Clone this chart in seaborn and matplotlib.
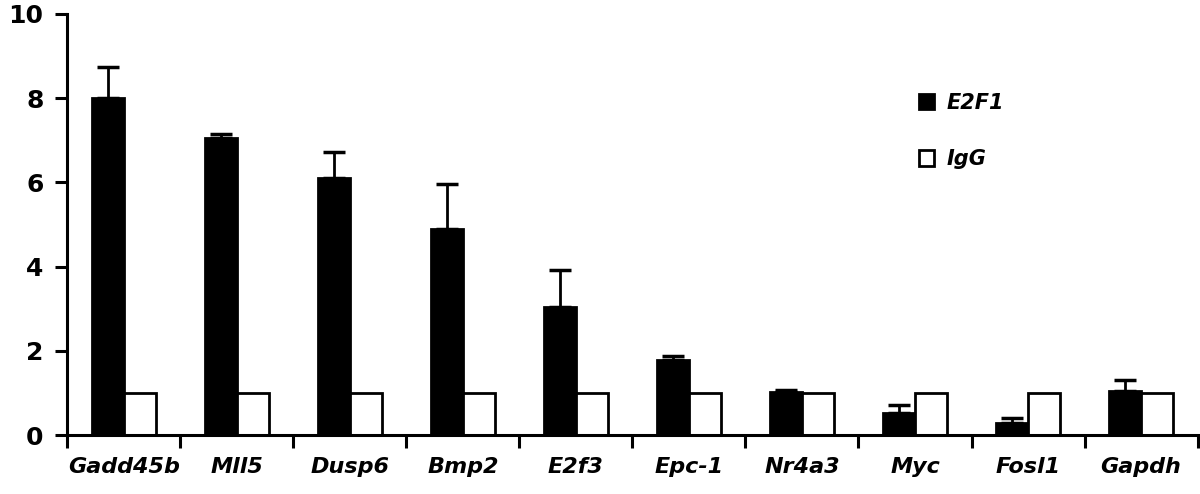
import numpy as np
import pandas as pd
import matplotlib
matplotlib.use("Agg")
import matplotlib.pyplot as plt
import seaborn as sns
from matplotlib.ticker import FixedLocator

genes = ["Gadd45b", "Mll5", "Dusp6", "Bmp2", "E2f3", "Epc-1", "Nr4a3", "Myc", "Fosl1", "Gapdh"]
e2f1 = [8.0, 7.05, 6.1, 4.9, 3.05, 1.78, 1.02, 0.52, 0.3, 1.05]
e2f1_err = [0.75, 0.1, 0.62, 1.06, 0.87, 0.1, 0.05, 0.19, 0.11, 0.27]
igg = [1.0] * 10

df = pd.DataFrame({
    "gene": genes * 2,
    "ab": ["E2F1"] * 10 + ["IgG"] * 10,
    "value": e2f1 + igg,
})

sns.set_style("white")
plt.rcParams["font.family"] = ["DejaVu Sans"]
plt.rcParams["text.color"] = "black"
plt.rcParams["xtick.color"] = "black"
plt.rcParams["ytick.color"] = "black"

fig = plt.figure(figsize=(12, 4.94), dpi=100)
ax = fig.add_axes([0.056, 0.119, 0.942, 0.853])

sns.barplot(data=df, x="gene", y="value", hue="ab", order=genes,
            palette={"E2F1": "black", "IgG": "white"}, edgecolor="black",
            linewidth=2, width=0.57, errorbar=None, ax=ax, legend=False)

# upper-only error bars on the E2F1 bars
xs = [p.get_x() + p.get_width() / 2 for p in ax.containers[0]]
ax.errorbar(xs, e2f1, yerr=[np.zeros(len(e2f1)), e2f1_err], fmt="none",
            ecolor="black", elinewidth=2, capsize=8, capthick=2.5, zorder=5)

ax.set_xlim(-0.5, len(genes) - 0.5)
ax.set_ylim(0, 10)
ax.set_yticks([0, 2, 4, 6, 8, 10])
ax.set_xlabel("")
ax.set_ylabel("")
sns.despine(ax=ax)
for s in ["left", "bottom"]:
    ax.spines[s].set_linewidth(2.2)
    ax.spines[s].set_color("black")

ax.set_xticks(range(len(genes)))
ax.set_xticklabels(genes, fontsize=16, fontweight="bold", style="italic")
ax.xaxis.set_minor_locator(FixedLocator(np.arange(-0.5, len(genes), 1.0)))
ax.tick_params(axis="x", which="major", bottom=True, length=0, pad=16, labelcolor="black")
ax.tick_params(axis="x", which="minor", bottom=True, length=9, width=2.2,
               direction="out", color="black")
ax.tick_params(axis="y", left=True, length=9, width=2.2, direction="out",
               color="black", pad=8, labelcolor="black")
for lab in ax.get_yticklabels():
    lab.set_fontsize(18)
    lab.set_fontweight("bold")

handles = [ax.containers[0][0], ax.containers[1][0]]
leg = ax.legend(handles, ["E2F1", "IgG"], loc="upper left",
                bbox_to_anchor=(0.75, 0.85), bbox_transform=fig.transFigure,
                frameon=False, handlelength=0.75, handleheight=0.75,
                handletextpad=0.6, labelspacing=1.75,
                prop={"size": 15, "weight": "bold", "style": "italic"})

fig.savefig("out.png", dpi=100)
